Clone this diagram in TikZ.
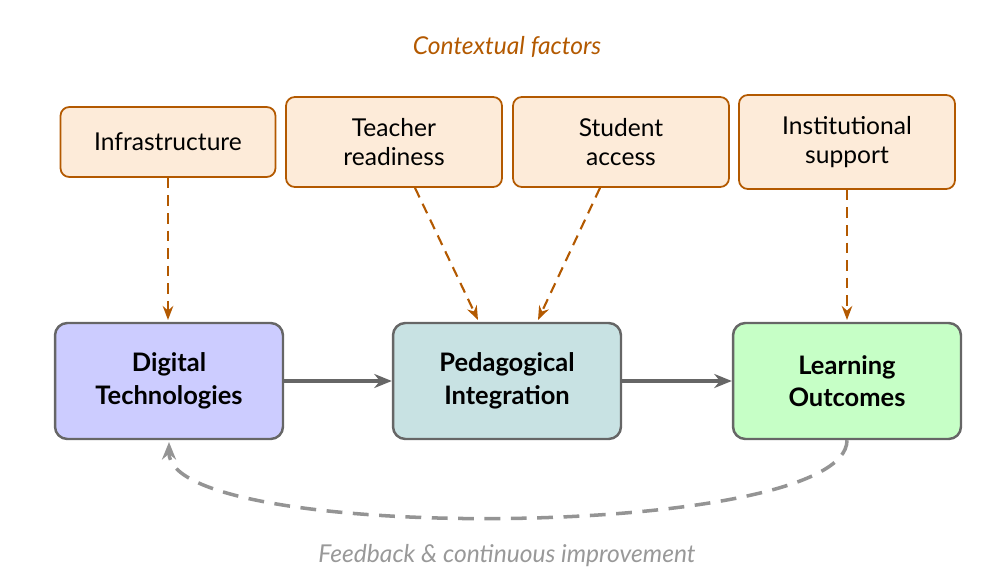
\documentclass[tikz,border=0pt]{standalone}
\usepackage{fontspec}
\setmainfont{Lato}
\usetikzlibrary{arrows.meta}
\definecolor{org}{HTML}{B35900}
\definecolor{orgfill}{HTML}{FDEBD9}
\definecolor{edge}{HTML}{666666}
\begin{document}
\begin{tikzpicture}[x=0.02cm,y=-0.02cm,
 ctx/.style={draw=org,fill=orgfill,rounded corners=5pt,line width=1pt,minimum width=216\pgflinewidth,align=center,font=\fontsize{14}{17}\selectfont,inner sep=0pt},
 main/.style={draw=edge,rounded corners=7pt,line width=1.4pt,minimum width=4.56cm,minimum height=2.32cm,align=center,font=\fontsize{14.5}{18.5}\selectfont\bfseries},
 carr/.style={draw=org,line width=1.2pt,dashed,dash pattern=on 6pt off 4pt,-{Stealth[length=8pt,width=6pt]}},
 marr/.style={draw=edge,line width=2pt,-{Stealth[length=10pt,width=8pt]}}]
\useasboundingbox (0,0) rectangle (1004,584);
\node[font=\fontsize{14}{17}\selectfont\itshape,text=org] (ct) at (507,47) {Contextual factors};
\node[ctx,minimum width=4.3cm,minimum height=1.4cm] (inf) at (168,142) {Infrastructure};
\node[ctx,minimum width=4.32cm,minimum height=1.8cm] (tr) at (394,142) {Teacher\\readiness};
\node[ctx,minimum width=4.32cm,minimum height=1.8cm] (sa) at (621,142) {Student\\access};
\node[ctx,minimum width=4.32cm,minimum height=1.88cm] (is) at (847,142) {Institutional\\support};
\node[main,fill={rgb,255:red,204;green,204;blue,255}] (dt) at (169,381) {Digital\\Technologies};
\node[main,fill={rgb,255:red,200;green,226;blue,227}] (pi) at (507,381) {Pedagogical\\Integration};
\node[main,fill={rgb,255:red,198;green,255;blue,198}] (lo) at (847,381) {Learning\\Outcomes};
\coordinate (a1) at (168,320);
\coordinate (a2) at (478,320);
\coordinate (a3) at (538,320);
\coordinate (a4) at (847,320);
\draw[carr] (inf.south) -- (a1);
\draw[carr] (tr.south -| 415,0) -- (a2);
\draw[carr] (sa.south -| 600,0) -- (a3);
\draw[carr] (is.south) -- (a4);
\draw[marr] (dt.east) -- (pi.west);
\draw[marr] (pi.east) -- (lo.west);
\coordinate (fb) at (169,442);
\draw[draw=edge!70,line width=2pt,dash pattern=on 9pt off 6pt,-{Stealth[length=10pt,width=8pt]}] (lo.south) .. controls (847,540) and (169,545) .. (fb);
\node[font=\fontsize{14}{17}\selectfont\itshape,text=gray!80] (fbt) at (507,556) {Feedback \& continuous improvement};
\end{tikzpicture}
\end{document}
